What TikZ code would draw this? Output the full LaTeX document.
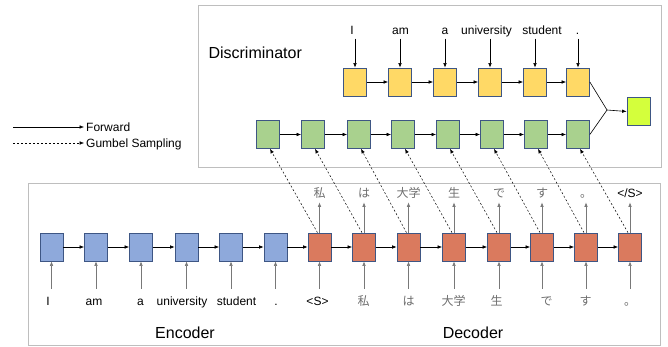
\documentclass[tikz,border=0pt]{standalone}
\usepackage{fontspec}
\setmainfont{Liberation Sans}
\newfontfamily\jpfont{Noto Sans CJK JP}
\usetikzlibrary{arrows.meta}

\definecolor{encblue}{RGB}{142,169,219}
\definecolor{decred}{RGB}{218,122,94}
\definecolor{discyellow}{RGB}{255,217,102}
\definecolor{discgreen}{RGB}{169,209,142}
\definecolor{outlime}{RGB}{212,255,60}
\definecolor{cellborder}{RGB}{62,86,132}
\definecolor{framegray}{RGB}{190,190,190}
\definecolor{jpgray}{RGB}{110,110,110}
\definecolor{arrowgray}{RGB}{120,120,120}

\newcommand\jpt[1]{{\jpfont\color{jpgray}#1}}

\begin{document}
\begin{tikzpicture}[x=1pt,y=-1pt,
  cell/.style={draw=cellborder, line width=0.7pt, minimum width=23pt,
    minimum height=28pt, inner sep=0pt},
  enc/.style={cell, fill=encblue},
  dec/.style={cell, fill=decred},
  ycell/.style={cell, fill=discyellow},
  gcell/.style={cell, fill=discgreen},
  frame/.style={draw=framegray, line width=0.8pt},
  word/.style={font=\fontsize{12}{14}\selectfont, text height=9pt,
    text depth=0pt, inner sep=2pt},
  title/.style={font=\fontsize{16}{18}\selectfont},
  fwd/.style={-{Latex[length=4.5pt,width=3.6pt]}, line width=0.6pt},
  fwdgray/.style={fwd, draw=arrowgray},
  gumbel/.style={-{Latex[length=4.5pt,width=3.6pt]}, line width=0.5pt,
    dash pattern=on 2pt off 2pt},
]
\useasboundingbox (0,0) rectangle (668,347);

% frames
\draw[frame] (198,5) rectangle (661,167);
\draw[frame] (28,183) rectangle (660,345);

% titles
\node[title, anchor=west] (disc) at (205,53) {Discriminator};
\node[title] (enclabel) at (185,333) {Encoder};
\node[title] (declabel) at (473,333) {Decoder};

% legend
\coordinate (fwdstart) at (13,127);
\node[word, anchor=west] (legfwd) at (84,127) {Forward};
\draw[fwd] (fwdstart) -- (legfwd.west);
\coordinate (gumstart) at (13,143);
\node[word, anchor=west] (leggum) at (84,143) {Gumbel Sampling};
\draw[gumbel] (gumstart) -- (leggum.west);

% encoder / decoder cells
\foreach \x [count=\i] in {51.5,96,141,186.5,231,275.5,
    319.5,364,408.5,454,499,542,586,630} {
  \ifnum\i<7
    \node[enc] (r\i) at (\x,247) {};
  \else
    \node[dec] (r\i) at (\x,247) {};
  \fi
}
\foreach \i [evaluate=\i as \j using int(\i+1)] in {1,...,13}
  \draw[fwd] (r\i.east) -- (r\j.west);

% input words below the cells
\foreach \x/\w [count=\i] in {48/I, 94/am, 140.5/a, 182/university,
    236.5/student, 276/., 317.5/{<S>}, 363.5/\jpt{私}, 408.5/\jpt{は},
    453.5/\jpt{大学}, 496.5/\jpt{生}, 546.5/\jpt{で}, 585.5/\jpt{す},
    630/\jpt{。}} {
  \node[word, anchor=base] (b\i) at (\x,305) {\w};
  \draw[fwdgray, shorten <=5pt] (r\i.south |- b\i.north) -- (r\i.south);
}

% decoder outputs
\foreach \w [count=\i, evaluate=\i as \k using int(\i+6)] in
    {\jpt{私}, \jpt{は}, \jpt{大学}, \jpt{生}, \jpt{で}, \jpt{す}, \jpt{。}, {</S>}} {
  \path (r\k.north) ++(0,-35) node[word, anchor=base] (o\i) {\w};
  \draw[fwdgray, shorten >=2.5pt] (r\k.north) -- (o\i.south);
}

% discriminator: reference sentence
\foreach \x [count=\i] in {355,400,445,490,535,578}
  \node[ycell] (y\i) at (\x,82) {};
\foreach \x/\w [count=\i] in {352/I, 400.5/am, 445/a, 486.5/university,
    542/student, 577.5/.} {
  \node[word, anchor=base] (t\i) at (\x,34.5) {\w};
  \draw[fwd, shorten <=2pt] (y\i.north |- t\i.south) -- (y\i.north);
}
\foreach \i [evaluate=\i as \j using int(\i+1)] in {1,...,5}
  \draw[fwd] (y\i.east) -- (y\j.west);

% discriminator: sampled sentence
\foreach \x [count=\i] in {268,313,359,403,448,492,536,578}
  \node[gcell] (g\i) at (\x,134.5) {};
\foreach \i [evaluate=\i as \j using int(\i+1)] in {1,...,7}
  \draw[fwd] (g\i.east) -- (g\j.west);

% Gumbel sampling links from decoder to discriminator
\foreach \i [evaluate=\i as \k using int(\i+6)] in {1,...,8}
  \draw[gumbel] ([xshift=-2pt]r\k.north) -- ([xshift=2pt]g\i.south);

% output
\node[cell, fill=outlime] (out) at (638.5,111.5) {};
\coordinate (merge) at (607,110);
\draw[line width=0.6pt] (y6.east) -- (merge) -- (g8.east);
\draw[fwd] (merge) -- (out.west);

\end{tikzpicture}
\end{document}
